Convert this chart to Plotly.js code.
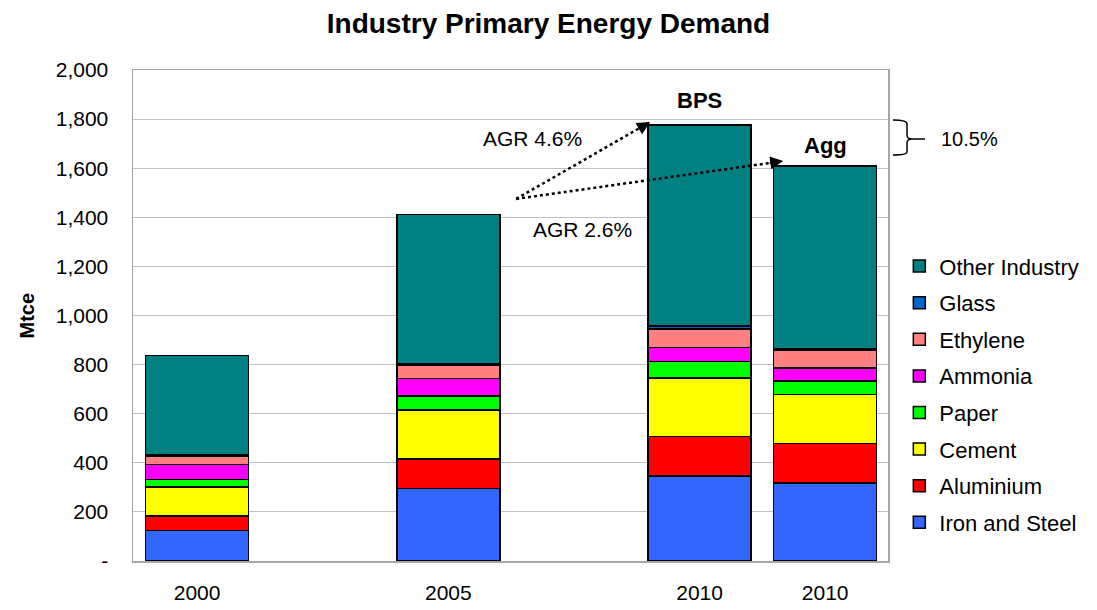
<!DOCTYPE html>
<html>
<head>
<meta charset="utf-8">
<script src="https://cdn.plot.ly/plotly-3.0.1.min.js"></script>
<style>html,body{margin:0;padding:0;background:#fff;}#chart{width:1097px;height:610px;}</style>
</head>
<body>
<div id="chart"></div>
<script>
// ---- data ----
const scenarios = ['2000', '2005', '2010 BPS', '2010 Agg'];
const xTickLabels = ['2000', '2005', '2010', '2010'];
const slotPositions = [0, 1, 2, 2.5];

const ironSteel = [125, 296, 346, 317];
const aluminium = [58, 119, 162, 161];
const cement    = [118, 201, 237, 201];
const paper     = [32, 57, 67, 55];
const ammonia   = [61, 71, 57, 53];
const ethylene  = [34, 53, 77, 71];
const glass     = [4, 5, 11, 6];
const otherInd  = [406, 610, 819, 745];

const yTickValues = [0, 200, 400, 600, 800, 1000, 1200, 1400, 1600, 1800, 2000];
const yTickLabels = ['-', '200', '400', '600', '800', '1,000', '1,200', '1,400', '1,600', '1,800', '2,000'];

const seriesNames = ['Iron and Steel', 'Aluminium', 'Cement', 'Paper', 'Ammonia', 'Ethylene', 'Glass', 'Other Industry'];
const seriesValues = [ironSteel, aluminium, cement, paper, ammonia, ethylene, glass, otherInd];
const seriesColors = ['#3366FF', '#FF0000', '#FFFF00', '#00FF00', '#FF00FF', '#FF8080', '#0066CC', '#008080'];

const growthLabels = ['AGR 4.6%', 'AGR 2.6%'];
const gapLabel = '10.5%';

// ---- chart ----
const FONT = 'Liberation Sans, Arial, Helvetica, sans-serif';

const traces = seriesNames.map((name, i) => ({
  type: 'bar',
  name: name,
  x: slotPositions,
  y: seriesValues[i],
  width: 0.41,
  legendgroup: name,
  legendrank: 1000 - i,
  marker: { color: seriesColors[i], line: { color: '#000000', width: 1.5 } },
  hovertext: scenarios,
  hoverinfo: 'text+y+name'
}));

function total(idx) {
  return seriesValues.reduce((s, arr) => s + arr[idx], 0);
}
const bpsTotal = total(2), aggTotal = total(3);

const startX = 1.27, startY = 1475;
const bpsTip = { x: 1.803, y: 1788 };
const aggTip = { x: 2.333, y: 1629 };

const shapes = [
  { type: 'line', xref: 'x', yref: 'y', x0: startX, y0: startY, x1: bpsTip.x, y1: bpsTip.y,
    line: { color: '#000', width: 2.5, dash: 'dot' } },
  { type: 'line', xref: 'x', yref: 'y', x0: startX, y0: startY, x1: aggTip.x, y1: aggTip.y,
    line: { color: '#000', width: 2.5, dash: 'dot' } },
  { type: 'path', xref: 'paper', yref: 'y',
    path: 'M 1.0066,1796 Q 1.0252,1796 1.0252,1780 L 1.0252,1735 Q 1.0252,1719 1.0318,1719 L 1.049,1719 ' +
          'M 1.0318,1719 Q 1.0252,1719 1.0252,1703 L 1.0252,1666 Q 1.0252,1654 1.0066,1654',
    line: { color: '#000', width: 1.5 } }
];

const annotations = [
  { x: bpsTip.x, y: bpsTip.y, xref: 'x', yref: 'y', ax: -13, ay: 7.5, showarrow: true,
    arrowhead: 2, arrowsize: 1.3, arrowwidth: 2, arrowcolor: '#000', text: '' },
  { x: aggTip.x, y: aggTip.y, xref: 'x', yref: 'y', ax: -15, ay: 2.1, showarrow: true,
    arrowhead: 2, arrowsize: 1.3, arrowwidth: 2, arrowcolor: '#000', text: '' },
  { x: 1.334, y: 1719, xref: 'x', yref: 'y', text: growthLabels[0], showarrow: false,
    font: { family: FONT, size: 21, color: '#000' } },
  { x: 1.533, y: 1352, xref: 'x', yref: 'y', text: growthLabels[1], showarrow: false,
    font: { family: FONT, size: 21, color: '#000' } },
  { x: slotPositions[2], y: bpsTotal, xref: 'x', yref: 'y', yanchor: 'bottom', text: '<b>BPS</b>', showarrow: false,
    font: { family: FONT, size: 22, color: '#000' }, yshift: 10 },
  { x: slotPositions[3], y: aggTotal, xref: 'x', yref: 'y', yanchor: 'bottom', text: '<b>Agg</b>', showarrow: false,
    font: { family: FONT, size: 22, color: '#000' }, yshift: 6 },
  { x: 1.067, y: 1719, xref: 'paper', yref: 'y', xanchor: 'left', text: gapLabel, showarrow: false,
    font: { family: FONT, size: 20, color: '#000' } },
  { x: -0.1404, y: 0.5, xref: 'paper', yref: 'paper', xanchor: 'center', yanchor: 'middle',
    text: '<b>Mtce</b>', textangle: -90, showarrow: false,
    font: { family: FONT, size: 20, color: '#000' } }
];

const layout = {
  width: 1097, height: 610,
  margin: { l: 133, r: 209, t: 70, b: 49 },
  paper_bgcolor: '#ffffff', plot_bgcolor: '#ffffff',
  barmode: 'stack',
  font: { family: FONT, color: '#000' },
  title: { text: '<b>Industry Primary Energy Demand</b>', x: 0.5, xref: 'container', xanchor: 'center',
           y: 0.962, yref: 'container', yanchor: 'middle', font: { family: FONT, size: 28, color: '#000' } },
  xaxis: { range: [-0.255, 2.75], tickmode: 'array', tickvals: slotPositions, ticktext: xTickLabels,
           showgrid: false, zeroline: false, showline: true, linecolor: '#a6a6a6', linewidth: 1.5, mirror: true,
           ticks: '', ticklabelstandoff: 12, tickfont: { family: FONT, size: 21, color: '#000' }, fixedrange: true },
  yaxis: { range: [0, 2000], tickmode: 'array', tickvals: yTickValues, ticktext: yTickLabels,
           showgrid: true, gridcolor: '#c0c0c0', gridwidth: 1.2, zeroline: false,
           showline: true, linecolor: '#a6a6a6', linewidth: 1.5, mirror: true, ticks: '',
           ticklabelstandoff: 19, tickfont: { family: FONT, size: 21, color: '#000' }, fixedrange: true },
  legend: { x: 1.015, xanchor: 'left', y: 0.643, yanchor: 'top', traceorder: 'grouped',
            tracegroupgap: 5, font: { family: FONT, size: 22, color: '#000' }, bgcolor: 'rgba(0,0,0,0)' },
  shapes: shapes,
  annotations: annotations,
  showlegend: true
};

Plotly.newPlot('chart', traces, layout, { displayModeBar: false, staticPlot: true });
</script>
</body>
</html>
